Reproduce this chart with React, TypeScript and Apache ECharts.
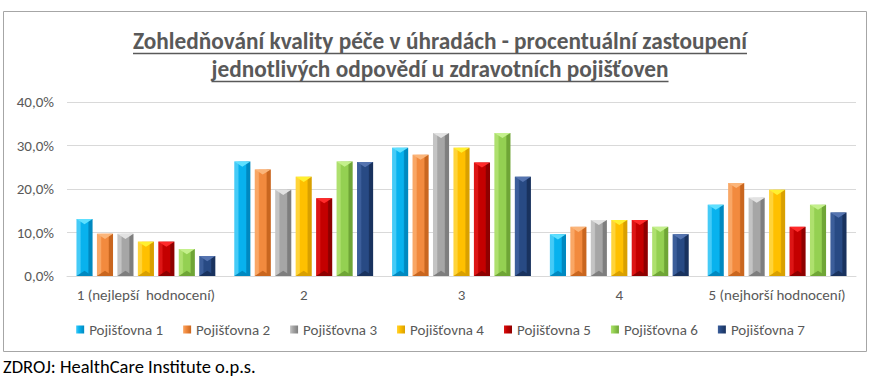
import React, { useEffect, useRef } from "react";
import * as echarts from "echarts";

const categories = ["1 (nejlepší  hodnocení)", "2", "3", "4", "5 (nejhorší hodnocení)"];
const seriesNames = ["Pojišťovna 1", "Pojišťovna 2", "Pojišťovna 3", "Pojišťovna 4", "Pojišťovna 5", "Pojišťovna 6", "Pojišťovna 7"];
const p1 = [13.1, 26.3, 29.5, 9.6, 16.4];
const p2 = [9.7, 24.5, 27.9, 11.3, 21.4];
const p3 = [9.7, 19.8, 32.9, 12.9, 18.0];
const p4 = [7.9, 22.8, 29.5, 12.9, 19.8];
const p5 = [7.9, 17.9, 26.1, 12.9, 11.3];
const p6 = [6.2, 26.3, 32.9, 11.3, 16.4];
const p7 = [4.6, 26.2, 22.8, 9.6, 14.6];
const seriesValues = [p1, p2, p3, p4, p5, p6, p7];
const yTicks = [0, 10, 20, 30, 40];
const titleLines = [
  "Zohledňování kvality péče v úhradách - procentuální zastoupení",
  "jednotlivých odpovědí u zdravotních pojišťoven",
];
const sourceText = "ZDROJ: HealthCare Institute o.p.s.";

// [light, main, dark, top]
const palette = [
  ["#45CBF7", "#08B2EE", "#0089C0", "#5EE0FF"],
  ["#F9A766", "#F28A3E", "#C9661F", "#FBB57A"],
  ["#C4C4C4", "#A6A6A6", "#7E7E7E", "#E2E2E2"],
  ["#FFD43A", "#FFC000", "#D9A000", "#FFF030"],
  ["#DD1515", "#C40000", "#8E0000", "#FF2A2A"],
  ["#AEE06E", "#94D052", "#6FA536", "#C4F08C"],
  ["#3C5E9A", "#284A84", "#19325E", "#5574B0"],
];

const FONT = "Carlito, Calibri, 'Liberation Sans Narrow', 'Open Sans', sans-serif";
const N = seriesNames.length;
const CAT_GAP = 0.12;
const BAR_GAP = 0.27;

function measure(text: string, font: string) {
  const c = document.createElement("canvas");
  const ctx = c.getContext("2d")!;
  ctx.font = font;
  return ctx.measureText(text).width;
}

export default function App() {
  const ref = useRef<HTMLDivElement>(null);
  useEffect(() => {
    document.body.style.margin = "0";
    const chart = echarts.init(ref.current!, undefined, { renderer: "svg" });

    const titleFontSize = 23.3;
    const titleFont = `bold ${titleFontSize}px ${FONT}`;
    const titleGraphics: any[] = [];
    const titleYs = [41, 69];
    titleLines.forEach((t, i) => {
      const w = measure(t, titleFont);
      titleGraphics.push({
        type: "text",
        x: 440,
        y: titleYs[i],
        style: {
          text: t,
          font: titleFont,
          fill: "#595959",
          align: "center",
          verticalAlign: "middle",
        },
      });
      titleGraphics.push({
        type: "line",
        shape: { x1: 440 - w / 2, y1: titleYs[i] + 12.5, x2: 440 + w / 2, y2: titleYs[i] + 12.5 },
        style: { stroke: "#595959", lineWidth: 1.5 },
      });
    });

    const series = seriesValues.map((vals, si) => {
      const [light, main, dark, top] = palette[si];
      return {
        name: seriesNames[si],
        type: "custom",
        itemStyle: {
          color: new echarts.graphic.LinearGradient(0, 0, 1, 0, [
            { offset: 0, color: light },
            { offset: 0.35, color: main },
            { offset: 1, color: dark },
          ]),
        },
        data: vals.map((v, ci) => [ci, v]),
        renderItem: (params: any, api: any) => {
          const ci = api.value(0);
          const v = api.value(1);
          const base = api.coord([ci, 0]);
          const tp = api.coord([ci, v]);
          const band = api.size([1, 0])[0];
          const bw = (band * (1 - CAT_GAP)) / (N + (N - 1) * BAR_GAP);
          const gap = bw * BAR_GAP;
          const groupW = N * bw + (N - 1) * gap;
          const x0 = base[0] - groupW / 2 + si * (bw + gap);
          const h = base[1] - tp[1];
          const th = Math.min(bw * 0.32, h / 2);
          return {
            type: "group",
            children: [
              {
                type: "rect",
                shape: { x: x0, y: tp[1], width: bw, height: h },
                style: {
                  fill: new echarts.graphic.LinearGradient(0, 0, 1, 0, [
                    { offset: 0, color: light },
                    { offset: 0.22, color: light },
                    { offset: 0.3, color: main },
                    { offset: 0.7, color: main },
                    { offset: 0.78, color: dark },
                    { offset: 1, color: dark },
                  ]),
                },
              },
              {
                type: "polygon",
                shape: { points: [[x0, tp[1]], [x0 + bw, tp[1]], [x0 + bw / 2, tp[1] + th]] },
                style: { fill: top },
              },
              {
                type: "polygon",
                shape: { points: [[x0, base[1]], [x0 + bw, base[1]], [x0 + bw / 2, base[1] - th]] },
                style: { fill: dark },
              },
            ],
          };
        },
      };
    });

    chart.setOption({
      animation: false,
      textStyle: { fontFamily: FONT },
      grid: { left: 67, right: 25, top: 102, bottom: 112, containLabel: false },
      legend: {
        data: seriesNames.map((n) => ({ name: n, icon: "rect" })),
        top: 317,
        left: "center",
        itemWidth: 8,
        itemHeight: 8,
        itemGap: 20,
        textStyle: { color: "#595959", fontSize: 15, fontFamily: FONT },
      },
      xAxis: {
        type: "category",
        data: categories,
        axisLine: { lineStyle: { color: "#d9d9d9" } },
        axisTick: { show: false },
        axisLabel: { color: "#595959", fontSize: 15, margin: 11, interval: 0, fontFamily: FONT },
      },
      yAxis: {
        type: "value",
        min: yTicks[0],
        max: yTicks[yTicks.length - 1],
        interval: yTicks[1] - yTicks[0],
        axisLabel: {
          color: "#595959",
          fontSize: 15,
          margin: 13,
          fontFamily: FONT,
          formatter: (v: number) => v.toFixed(1).replace(".", ",") + "%",
        },
        splitLine: { lineStyle: { color: "#d9d9d9" } },
        axisLine: { show: false },
        axisTick: { show: false },
      },
      graphic: [
        {
          type: "rect",
          shape: { x: 3.5, y: 11.5, width: 863, height: 340 },
          style: { fill: "none", stroke: "#a6a6a6", lineWidth: 1 },
          z: -10,
        },
        ...titleGraphics,
        {
          type: "text",
          x: 3,
          y: 366,
          style: {
            text: sourceText,
            font: `18.5px ${FONT}`,
            fill: "#000000",
            verticalAlign: "middle",
          },
        },
      ],
      series,
    });
    return () => chart.dispose();
  }, []);
  return <div ref={ref} style={{ width: 881, height: 388 }} />;
}
